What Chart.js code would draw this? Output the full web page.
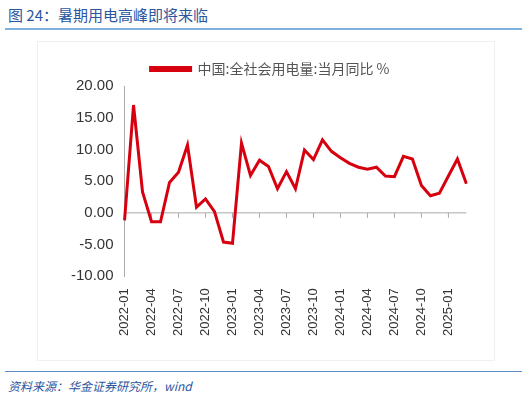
<!DOCTYPE html>
<html><head><meta charset="utf-8">
<script src="https://cdn.jsdelivr.net/npm/chart.js@4"></script>
<style>
body{margin:0;width:527px;height:401px;background:#fff;font-family:"Noto Sans CJK SC",sans-serif;position:relative;overflow:hidden}
#title{position:absolute;left:8px;top:4px;font-size:15px;color:#2a56a0}
#rule1{position:absolute;left:5px;top:28px;width:517px;height:2px;background:#7fb2dc}
#box{position:absolute;left:37px;top:41px;width:456px;height:318px;border:1px solid #f0f0f0}
#rule2{position:absolute;left:5px;top:371px;width:517px;height:1px;background:#5a8fc8}
#src{position:absolute;left:8px;top:377px;font-size:12px;color:#2a56a0;font-style:italic}
</style></head><body>
<div id="title">图 24：暑期用电高峰即将来临</div>
<div id="rule1"></div>
<div id="box"><canvas id="c" width="456" height="318"></canvas></div>
<div id="rule2"></div>
<div id="src">资料来源：华金证券研究所，wind</div>
<script>
const months = [];
for (let y = 2022; y <= 2025; y++) for (let m = 1; m <= 12; m++) {
  if (y === 2025 && m > 3) break;
  months.push(y + '-' + String(m).padStart(2, '0'));
}
const growth = [-1.2, 17.0, 3.3, -1.4, -1.4, 4.8, 6.4, 10.7, 0.9, 2.2, 0.2, -4.6,
  -4.8, 11.0, 5.9, 8.3, 7.3, 3.8, 6.5, 3.8, 9.9, 8.4, 11.5, 9.7,
  8.7, 7.8, 7.2, 6.9, 7.2, 5.8, 5.7, 8.9, 8.5, 4.3, 2.7, 3.1,
  5.8, 8.5, 4.6];
const seriesName = '中国:全社会用电量:当月同比 %';

// x axis line drawn at zero, like the original
const zeroAxis = {
  id: 'zeroAxis',
  beforeDatasetsDraw(ch) {
    const { ctx, scales: { x, y } } = ch;
    const y0 = y.getPixelForValue(0);
    ctx.save();
    ctx.strokeStyle = '#aaa';
    ctx.lineWidth = 1;
    ctx.beginPath();
    ctx.moveTo(x.left, y0); ctx.lineTo(x.right, y0);
    for (let i = 0; i < months.length; i += 3) {
      const px = x.getPixelForValue(i);
      ctx.moveTo(px, y0); ctx.lineTo(px, y0 + 5);
    }
    ctx.stroke();
    ctx.restore();
  }
};

new Chart(document.getElementById('c'), {
  type: 'line',
  data: { labels: months, datasets: [{
    label: seriesName, data: growth, borderColor: '#d7000f', borderWidth: 3,
    pointRadius: 0, tension: 0, fill: false
  }]},
  options: {
    responsive: false, animation: false,
    layout: { padding: { left: 30, right: 22, top: 6, bottom: 12 } },
    plugins: {
      legend: { labels: { boxWidth: 40, boxHeight: 3, color: '#555', padding: 14,
        font: { size: 14, family: 'Noto Sans CJK SC' } } },
      tooltip: { enabled: false }
    },
    scales: {
      y: { min: -10, max: 20, ticks: { stepSize: 5, color: '#333', font: { size: 15 },
        callback: v => v.toFixed(2) },
        grid: { display: false }, border: { color: '#aaa' } },
      x: { grid: { display: false, drawTicks: false }, border: { display: false },
        ticks: { autoSkip: false, maxRotation: 90, minRotation: 90, color: '#333', font: { size: 13 }, padding: 12,
          callback: (v, i) => i % 3 === 0 ? months[i] : '' } }
    }
  },
  plugins: [zeroAxis]
});
</script>
</body></html>
